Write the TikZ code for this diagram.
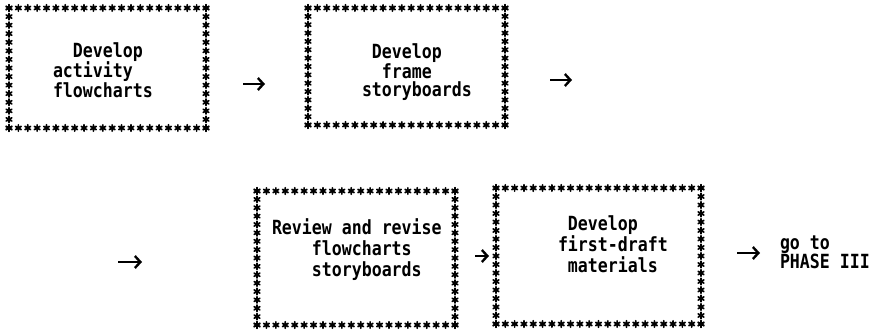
\documentclass[tikz,border=0pt]{standalone}
\usepackage{fontspec}
\newfontfamily\typer[FakeStretch=0.85]{DejaVu Sans Mono}
\usetikzlibrary{calc,arrows.meta}
\newcommand\starborder[3]{%
  \foreach \i in {0,...,#2}{%
    \path ($(#1.north west)!\i/#2!(#1.north east)$) pic{ast};
    \path ($(#1.south west)!\i/#2!(#1.south east)$) pic{ast};
  }%
  \foreach \j in {0,...,#3}{%
    \path ($(#1.north west)!\j/#3!(#1.south west)$) pic{ast};
    \path ($(#1.north east)!\j/#3!(#1.south east)$) pic{ast};
  }%
}
\tikzset{
  ast/.pic={\draw[line width=1.7pt,line cap=round] (0,-3.2)--(0,3.2) (-2.8,-1.6)--(2.8,1.6) (-2.8,1.6)--(2.8,-1.6);},
  frame/.style={rectangle,inner sep=0pt,outer sep=0pt,minimum width=#1},
  lbl/.style={inner sep=0pt,outer sep=0pt,anchor=north west,align=left,font=\typer\bfseries\fontsize{19.5}{#1}\selectfont},
  arr/.style={line width=2.4pt,-{Straight Barb[length=5.5pt,width=12pt,line width=2.4pt]}},
}
\begin{document}
\begin{tikzpicture}[x=1pt,y=1pt]
\useasboundingbox (0,0) rectangle (882,332);
% boxes
\node[frame=197pt,minimum height=120pt] (b1) at (107.5,264) {};
\node[frame=197pt,minimum height=117pt] (b2) at (406.5,265.5) {};
\node[frame=198pt,minimum height=134pt] (b3) at (356,74) {};
\node[frame=205pt,minimum height=136pt] (b4) at (598.5,76) {};
\starborder{b1}{21}{14}
\starborder{b2}{21}{14}
\starborder{b3}{21}{16}
\starborder{b4}{22}{16}
% texts
\node[lbl=20pt] (t1) at (53,289.4) {\hphantom{xx}Develop\\activity\\flowcharts};
\node[lbl=18pt] (t2) at (362,288.4) {\hphantom{x}Develop\\\hphantom{xx}frame\\storyboards};
\node[lbl=21pt] (t3) at (272,113.4) {Review and revise\\\hphantom{xxxx}flowcharts\\\hphantom{xxxx}storyboards};
\node[lbl=21pt] (t4) at (558,116.4) {\hphantom{x}Develop\\first-draft\\\hphantom{x}materials};
\node[lbl=18pt] (p) at (780,96.5) {go to\\PHASE III};
% free ends
\coordinate (c2) at (572,252);
\coordinate (c3) at (118,70);
% arrows
\draw[arr,shorten <=37pt,shorten >=43pt] (b1.east |- 0,248) -- (b2.west |- 0,248);
\draw[arr,shorten <=45pt] (b2.east |- c2) -- (c2);
\draw[arr,shorten >=115pt] (c3) -- (c3 -| b3.west);
\draw[arr,shorten <=20pt,shorten >=7pt] (b3.east |- 0,76) -- (b4.west |- 0,76);
\draw[arr,shorten <=36pt,shorten >=20pt] (b4.east |- 0,79) -- (p.west |- 0,79);
\end{tikzpicture}
\end{document}
